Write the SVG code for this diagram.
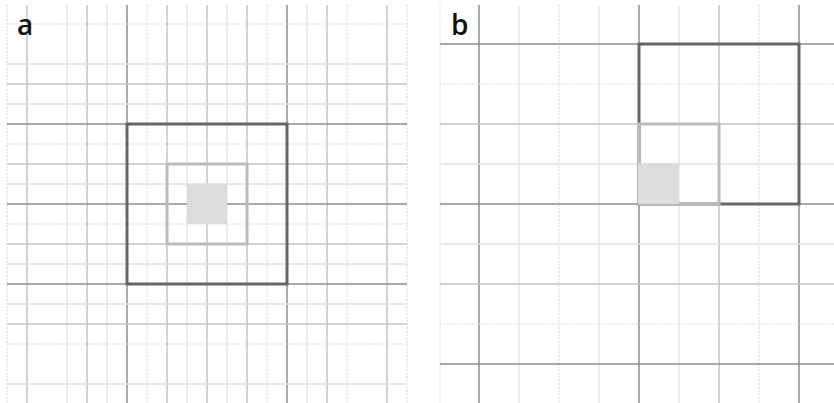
<svg xmlns="http://www.w3.org/2000/svg" width="834" height="403" viewBox="0 0 834 403">
<style>
.dk{stroke:#8c8c8c;stroke-width:1.5}
.md{stroke:#c4c4c4;stroke-width:1.5}
.lt{stroke:#e2e2e2;stroke-width:1.3}
.dt{stroke:#dcdcdc;stroke-width:1.2;stroke-dasharray:2 1.5}
.big{fill:none;stroke:#666;stroke-width:3}
.mid{fill:none;stroke:#bbb;stroke-width:3}
.fil{fill:#dcdcdc}
text{font-family:"Open Sans","DejaVu Sans",sans-serif;font-size:28px;font-weight:600;fill:#111}
</style>
<rect width="834" height="403" fill="#fff"/>
<g id="panel-a-grid">
<line class="dt" x1="7" y1="5" x2="7" y2="403"/>
<line class="md" x1="27" y1="5" x2="27" y2="403"/>
<line class="lt" x1="67" y1="5" x2="67" y2="403"/>
<line class="md" x1="87" y1="5" x2="87" y2="403"/>
<line class="lt" x1="107" y1="5" x2="107" y2="403"/>
<line class="dk" x1="127" y1="5" x2="127" y2="403"/>
<line class="dt" x1="147" y1="5" x2="147" y2="403"/>
<line class="md" x1="167" y1="5" x2="167" y2="403"/>
<line class="lt" x1="187" y1="5" x2="187" y2="403"/>
<line class="md" x1="207" y1="5" x2="207" y2="403"/>
<line class="lt" x1="227" y1="5" x2="227" y2="403"/>
<line class="md" x1="247" y1="5" x2="247" y2="403"/>
<line class="dt" x1="267" y1="5" x2="267" y2="403"/>
<line class="dk" x1="287" y1="5" x2="287" y2="403"/>
<line class="lt" x1="307" y1="5" x2="307" y2="403"/>
<line class="md" x1="327" y1="5" x2="327" y2="403"/>
<line class="dt" x1="347" y1="5" x2="347" y2="403"/>
<line class="md" x1="387" y1="5" x2="387" y2="403"/>
<line class="dt" x1="407" y1="5" x2="407" y2="403"/>
<line class="dt" x1="7" y1="24" x2="407" y2="24"/>
<line class="lt" x1="7" y1="64" x2="407" y2="64"/>
<line class="md" x1="7" y1="84" x2="407" y2="84"/>
<line class="lt" x1="7" y1="104" x2="407" y2="104"/>
<line class="dk" x1="7" y1="124" x2="407" y2="124"/>
<line class="dt" x1="7" y1="144" x2="407" y2="144"/>
<line class="md" x1="7" y1="164" x2="407" y2="164"/>
<line class="lt" x1="7" y1="184" x2="407" y2="184"/>
<line class="dk" x1="7" y1="204" x2="407" y2="204"/>
<line class="dt" x1="7" y1="224" x2="407" y2="224"/>
<line class="md" x1="7" y1="244" x2="407" y2="244"/>
<line class="lt" x1="7" y1="264" x2="407" y2="264"/>
<line class="dk" x1="7" y1="284" x2="407" y2="284"/>
<line class="lt" x1="7" y1="304" x2="407" y2="304"/>
<line class="md" x1="7" y1="324" x2="407" y2="324"/>
<line class="dt" x1="7" y1="344" x2="407" y2="344"/>
<line class="lt" x1="7" y1="384" x2="407" y2="384"/>
</g>
<g id="panel-a-squares">
<rect class="fil" x="187" y="184" width="40" height="40"/>
<rect class="big" x="127" y="124" width="160" height="160"/>
<rect class="mid" x="167" y="164" width="80" height="80"/>
</g>
<g id="panel-b-grid">
<line class="dt" x1="440" y1="5" x2="440" y2="403"/>
<line class="dk" x1="479" y1="5" x2="479" y2="403"/>
<line class="lt" x1="519" y1="5" x2="519" y2="403"/>
<line class="dt" x1="559" y1="5" x2="559" y2="403"/>
<line class="lt" x1="599" y1="5" x2="599" y2="403"/>
<line class="dk" x1="639" y1="5" x2="639" y2="403"/>
<line class="lt" x1="679" y1="5" x2="679" y2="403"/>
<line class="md" x1="719" y1="5" x2="719" y2="403"/>
<line class="dt" x1="759" y1="5" x2="759" y2="403"/>
<line class="dk" x1="799" y1="5" x2="799" y2="403"/>
<line class="dk" x1="440" y1="44" x2="834" y2="44"/>
<line class="dt" x1="440" y1="84" x2="834" y2="84"/>
<line class="md" x1="440" y1="124" x2="834" y2="124"/>
<line class="lt" x1="440" y1="164" x2="834" y2="164"/>
<line class="dk" x1="440" y1="204" x2="834" y2="204"/>
<line class="lt" x1="440" y1="244" x2="834" y2="244"/>
<line class="md" x1="440" y1="284" x2="834" y2="284"/>
<line class="dt" x1="440" y1="324" x2="834" y2="324"/>
<line class="dk" x1="440" y1="364" x2="834" y2="364"/>
</g>
<g id="panel-b-squares">
<rect class="big" x="639" y="44" width="160" height="160"/>
<rect class="mid" x="639" y="124" width="80" height="80"/>
<rect class="fil" x="638" y="163" width="41" height="41"/>
</g>
<g id="labels">
<text x="17" y="35">a</text>
<text x="451" y="35">b</text>
</g>
</svg>
